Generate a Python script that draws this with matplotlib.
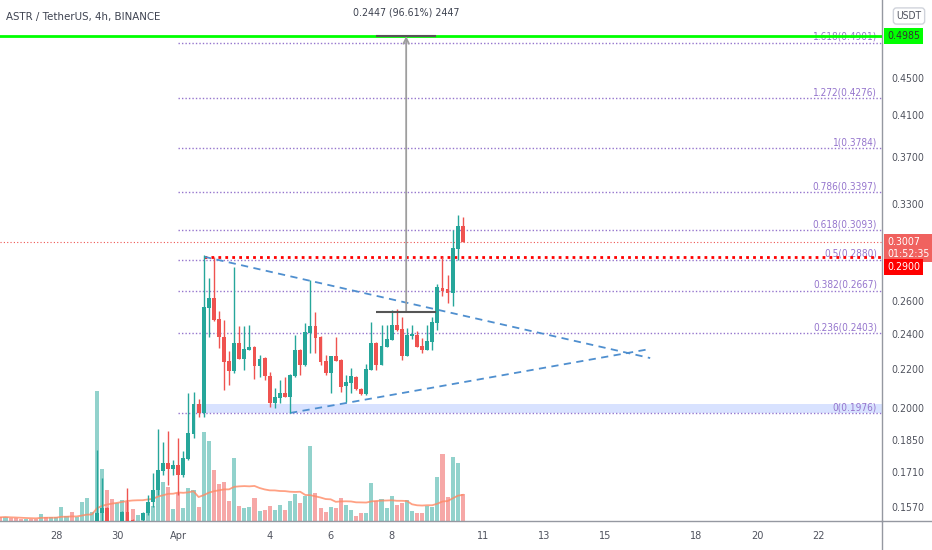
import numpy as np
import pandas as pd
import matplotlib
matplotlib.use("Agg")
import matplotlib.pyplot as plt
import matplotlib.dates as mdates
import matplotlib.transforms as mtransforms
from matplotlib.lines import Line2D
from matplotlib.patches import Rectangle
from matplotlib.ticker import FixedLocator, FuncFormatter, NullLocator

plt.rcParams['font.family'] = ['DejaVu Sans']
plt.rcParams['font.stretch'] = 'condensed'

# ASTR / USDT, 4h candles
candleStart = "2022-03-29 08:00"
opens = [0.1513, 0.1547, 0.1566, 0.1513, 0.1490, 0.1505, 0.1551, 0.1521, 0.1500, 0.1521,
         0.1547, 0.1589, 0.1637, 0.1715, 0.1749, 0.1723, 0.1741, 0.1698, 0.1766, 0.1878,
         0.2021, 0.1977, 0.2558, 0.2621, 0.2490, 0.2382, 0.2246, 0.2192, 0.2347, 0.2257,
         0.2307, 0.2324, 0.2219, 0.2262, 0.2165, 0.2026, 0.2051, 0.2076, 0.2056, 0.2165,
         0.2307, 0.2224, 0.2406, 0.2447, 0.2382, 0.2246, 0.2181, 0.2274, 0.2251, 0.2112,
         0.2128, 0.2160, 0.2097, 0.2071, 0.2197, 0.2347, 0.2224, 0.2324, 0.2365, 0.2453,
         0.2429, 0.2274, 0.2388, 0.2394, 0.2330, 0.2307, 0.2353, 0.2465, 0.2686, 0.2680,
         0.2654, 0.2956, 0.3128]
highs = [0.1806, 0.1686, 0.1570, 0.1515, 0.1510, 0.1555, 0.1646, 0.1525, 0.1510, 0.1551,
         0.1617, 0.1707, 0.1901, 0.1841, 0.1892, 0.1762, 0.1860, 0.1801, 0.2076, 0.2082,
         0.2046, 0.2913, 0.2753, 0.2898, 0.2539, 0.2483, 0.2302, 0.2828, 0.2447, 0.2447,
         0.2453, 0.2330, 0.2279, 0.2268, 0.2186, 0.2102, 0.2144, 0.2160, 0.2176, 0.2394,
         0.2313, 0.2465, 0.2740, 0.2533, 0.2385, 0.2279, 0.2276, 0.2382, 0.2255, 0.2170,
         0.2208, 0.2165, 0.2100, 0.2230, 0.2471, 0.2350, 0.2453, 0.2453, 0.2545, 0.2551,
         0.2502, 0.2435, 0.2453, 0.2418, 0.2376, 0.2453, 0.2502, 0.2713, 0.2898, 0.2774,
         0.3097, 0.3213, 0.3197]
lows = [0.1500, 0.1513, 0.1500, 0.1470, 0.1470, 0.1490, 0.1490, 0.1490, 0.1480, 0.1510,
        0.1540, 0.1570, 0.1617, 0.1698, 0.1657, 0.1698, 0.1617, 0.1690, 0.1762, 0.1860,
        0.1958, 0.1958, 0.2382, 0.2480, 0.2319, 0.2092, 0.2118, 0.2181, 0.2257, 0.2197,
        0.2307, 0.2149, 0.2160, 0.2144, 0.2006, 0.2001, 0.2026, 0.2056, 0.1977, 0.2160,
        0.2170, 0.2219, 0.2290, 0.2290, 0.2224, 0.2170, 0.2076, 0.2246, 0.2082, 0.2031,
        0.2076, 0.2092, 0.2066, 0.2068, 0.2195, 0.2197, 0.2222, 0.2322, 0.2363, 0.2420,
        0.2251, 0.2272, 0.2371, 0.2322, 0.2290, 0.2305, 0.2307, 0.2423, 0.2634, 0.2589,
        0.2570, 0.2877, 0.3005]
closes = [0.1547, 0.1566, 0.1513, 0.1490, 0.1505, 0.1551, 0.1500, 0.1500, 0.1508, 0.1547,
          0.1589, 0.1637, 0.1719, 0.1749, 0.1723, 0.1741, 0.1698, 0.1770, 0.1882, 0.2021,
          0.1977, 0.2564, 0.2621, 0.2483, 0.2382, 0.2240, 0.2192, 0.2347, 0.2257, 0.2313,
          0.2324, 0.2219, 0.2257, 0.2165, 0.2026, 0.2056, 0.2076, 0.2056, 0.2170, 0.2307,
          0.2224, 0.2411, 0.2447, 0.2376, 0.2240, 0.2181, 0.2274, 0.2246, 0.2107, 0.2133,
          0.2165, 0.2097, 0.2071, 0.2203, 0.2347, 0.2224, 0.2330, 0.2371, 0.2453, 0.2423,
          0.2274, 0.2394, 0.2400, 0.2324, 0.2307, 0.2359, 0.2471, 0.2693, 0.2667, 0.2654,
          0.2963, 0.3128, 0.3007]

# volume (thousand ASTR), starts earlier than the visible candles
volumeStart = "2022-03-26 04:00"
volumes = [37, 43, 30, 30, 23, 17, 17, 17, 70, 40,
           40, 40, 143, 50, 90, 40, 193, 227, 93, 1300,
           520, 310, 217, 183, 210, 193, 120, 60, 80, 193,
           150, 510, 393, 337, 120, 277, 133, 327, 310, 143,
           893, 800, 510, 367, 393, 203, 627, 150, 133, 143,
           227, 100, 110, 150, 110, 160, 110, 203, 267, 183,
           253, 750, 283, 133, 90, 143, 133, 227, 160, 110,
           53, 83, 83, 377, 203, 223, 133, 253, 160, 180,
           210, 100, 83, 83, 150, 143, 443, 667, 243, 643,
           583, 267]
volumeUpBefore = [False, True, False, False, False, True, False, False, True, False,
                  True, True, True, True, False, True, True, True, True]

fibRatios = ["1.618", "1.272", "1", "0.786", "0.618", "0.5", "0.382", "0.236", "0"]
fibPrices = [0.4901, 0.4276, 0.3784, 0.3397, 0.3093, 0.2880, 0.2667, 0.2403, 0.1976]
fibStart = "2022-04-01 00:00"

priceTicks = [0.4500, 0.4100, 0.3700, 0.3300, 0.2600, 0.2400, 0.2200, 0.2000, 0.1850, 0.1710, 0.1570]
dateTicks = ["2022-03-28", "2022-03-30", "2022-04-01", "2022-04-04", "2022-04-06", "2022-04-08",
             "2022-04-11", "2022-04-13", "2022-04-15", "2022-04-18", "2022-04-20", "2022-04-22"]
dateLabels = ["28", "30", "Apr", "4", "6", "8", "11", "13", "15", "18", "20", "22"]

lastPrice = 0.3007
countdown = "01:52:35"
alertPrice = 0.2900
alertStart = "2022-04-01 20:00"
greenLevel = 0.4985

triangleUpperT = ["2022-04-01 20:20", "2022-04-16 11:30"]
triangleUpperP = [0.2900, 0.2262]
triangleLowerT = ["2022-04-04 16:00", "2022-04-16 11:30"]
triangleLowerP = [0.1977, 0.2313]

zoneStart = "2022-04-01 14:00"
zoneLow, zoneHigh = 0.1977, 0.2021

measureStart, measureMid, measureEnd = "2022-04-07 11:45", "2022-04-08 11:25", "2022-04-09 11:00"
measureLow, measureHigh = 0.2533, 0.4980
measureText = "0.2447 (96.61%) 2447"

xStart, xEnd = "2022-03-26 03:40", "2022-04-24 02:00"
priceMin, priceMax = 0.1517, 0.5442

green = "#26a69a"
red = "#ef5350"
fibColor = "#9575cd"
textColor = "#50535e"

fig = plt.figure(figsize=(9.32, 5.5), dpi=100)
rect = [0, 29 / 550, 882 / 932, 521 / 550]
axVol = fig.add_axes(rect, zorder=0)
ax = fig.add_axes(rect, zorder=1)
ax.patch.set_alpha(0)

d = lambda s: mdates.date2num(pd.Timestamp(s))
step = 4 / 24

# volume pane
tv = mdates.date2num(pd.date_range(volumeStart, periods=len(volumes), freq="4h"))
o, h, l, c = map(np.array, (opens, highs, lows, closes))
up = c >= o
volUp = np.array(volumeUpBefore + list(up))
axVol.bar(tv, volumes, width=step * 0.8, color=np.where(volUp, green, red), alpha=0.5, lw=0)
volMa = pd.Series(volumes, dtype=float).rolling(20, min_periods=1).mean()
axVol.plot(tv, volMa, color="#ff8a65", lw=1.3, alpha=0.8)
axVol.set_ylim(0, max(volumes) * 4.0)
axVol.set_xlim(d(xStart), d(xEnd))
axVol.axis("off")

# candles
tc = mdates.date2num(pd.date_range(candleStart, periods=len(opens), freq="4h"))
colors = np.where(up, green, red)
ax.vlines(tc, l, h, colors=colors, lw=1, zorder=4)
ax.bar(tc, np.maximum(np.abs(c - o), 0.0005), bottom=np.minimum(o, c),
       width=step * 0.76, color=colors, lw=0, zorder=5)

ax.set_yscale("log")
ax.set_xlim(d(xStart), d(xEnd))
ax.set_ylim(priceMin, priceMax)

# drawings
xRight = d(xEnd)
for ratio, price in zip(fibRatios, fibPrices):
    ax.hlines(price, d(fibStart), xRight, colors=fibColor, lw=1, linestyles=(0, (1, 1.5)), zorder=2)
    ax.annotate(ratio + "(" + f"{price:.4f}" + ")", xy=(xRight, price), xytext=(-5, 3),
                textcoords="offset pixels", ha="right", va="baseline", fontsize=7.2, color=fibColor)

ax.add_patch(Rectangle((d(zoneStart), zoneLow), xRight - d(zoneStart), zoneHigh - zoneLow,
                       facecolor="#2962ff", alpha=0.18, lw=0, zorder=1))

ax.axhline(greenLevel, color="#00ff00", lw=2, zorder=6)
ax.axhline(lastPrice, color=red, lw=0.8, linestyle=(0, (1, 2)), zorder=2)
ax.hlines(alertPrice, d(alertStart), xRight, colors="#ff0000", lw=2, linestyles=(0, (1, 1.5)), zorder=3)

ax.plot([d(s) for s in triangleUpperT], triangleUpperP, color="#4f8fcf", lw=1.3, dashes=(4, 3), zorder=3)
ax.plot([d(s) for s in triangleLowerT], triangleLowerP, color="#4f8fcf", lw=1.3, dashes=(4, 3), zorder=3)

ax.annotate("", xy=(d(measureMid), measureHigh), xytext=(d(measureMid), measureLow),
            arrowprops=dict(arrowstyle="->", color="#9e9e9e", lw=1.3, shrinkA=0, shrinkB=0), zorder=6)
ax.hlines([measureLow, measureHigh], d(measureStart), d(measureEnd), colors="#555555", lw=1.5, zorder=7)
ax.annotate(measureText, xy=(d(measureMid), measureHigh), xytext=(0, 24), textcoords="offset pixels",
            ha="center", va="center", fontsize=7.6, color="#3d4250")

# axes styling
ax.yaxis.tick_right()
ax.yaxis.set_major_locator(FixedLocator(priceTicks))
ax.yaxis.set_major_formatter(FuncFormatter(lambda v, p: f"{v:.4f}"))
ax.yaxis.set_minor_locator(NullLocator())
ax.set_xticks([d(s) for s in dateTicks], dateLabels)
ax.tick_params(axis="y", length=0, pad=7, labelsize=7.6, labelcolor=textColor)
ax.tick_params(axis="x", length=0, pad=7, labelsize=7.8, labelcolor=textColor)
for side in ["left", "top"]:
    ax.spines[side].set_visible(False)
for side in ["right", "bottom"]:
    ax.spines[side].set_color("#9598a1")
    ax.spines[side].set_linewidth(1)

fig.add_artist(Line2D([882 / 932, 882 / 932], [0, 29 / 550], color="#9598a1", lw=1, transform=fig.transFigure))
fig.add_artist(Line2D([882 / 932, 1], [29 / 550, 29 / 550], color="#9598a1", lw=1, transform=fig.transFigure))

# price tags on the axis
blend = mtransforms.blended_transform_factory(ax.transAxes, ax.transData)
def priceTag(price, text, face, color, dy=0):
    ax.annotate(text, xy=(1, price), xycoords=blend, xytext=(5, dy), textcoords="offset pixels",
                ha="left", va="center", fontsize=7.6, color=color, linespacing=1.2,
                bbox=dict(boxstyle="square,pad=0.3", fc=face, ec="none"), annotation_clip=False, zorder=10)

priceTag(greenLevel, f"{greenLevel:.4f}", "#00ff00", "#333333")
priceTag(lastPrice, f"{lastPrice:.4f}\n{countdown}", "#f0625f", "white", dy=-6)
priceTag(alertPrice, f"{alertPrice:.4f}", "#ff0000", "white", dy=-10)

fig.text(909 / 932, 1 - 16 / 550, "USDT", ha="center", va="center", fontsize=7.4, color=textColor,
         bbox=dict(boxstyle="round,pad=0.3", fc="white", ec="#d0d3db"))
fig.text(6 / 932, 1 - 17 / 550, "ASTR / TetherUS, 4h, BINANCE", ha="left", va="center",
         fontsize=8.2, color="#3d4250")

fig.savefig("out.png", dpi=100, facecolor="white")
